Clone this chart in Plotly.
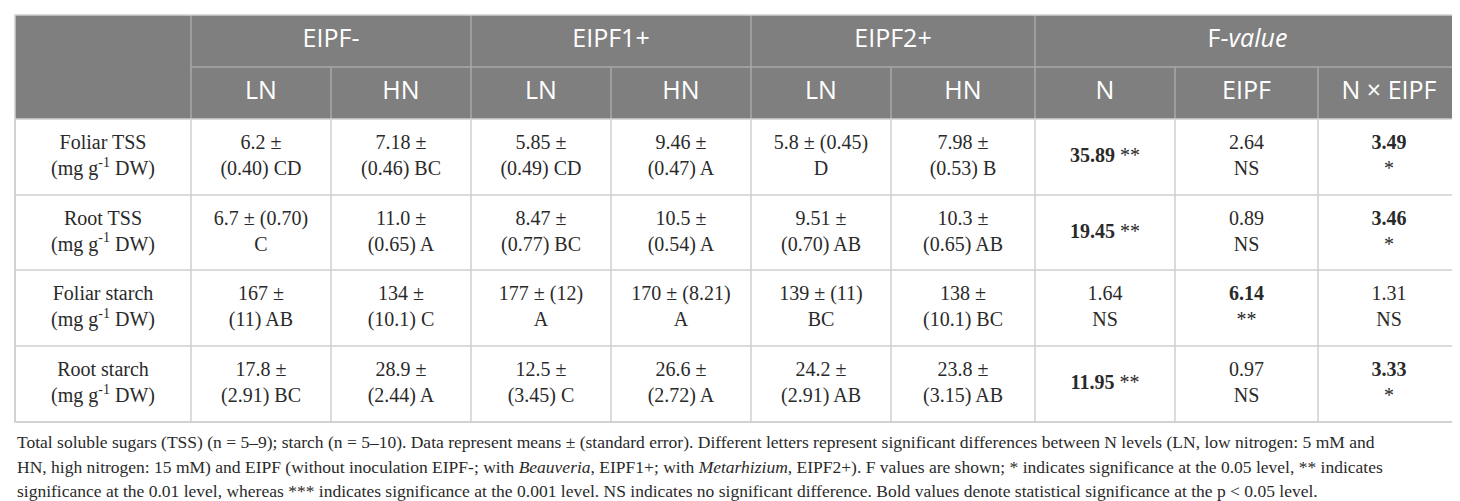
import plotly.graph_objects as go

# table content
row_labels = ["Foliar TSS", "Root TSS", "Foliar starch", "Root starch"]
unit_label = "(mg g<sup>-1</sup> DW)"
groups = ["EIPF-", "EIPF1+", "EIPF2+"]
n_levels = ["LN", "HN"]
f_terms = ["N", "EIPF", "N × EIPF"]

means = [
    ["6.2", "7.18", "5.85", "9.46", "5.8", "7.98"],
    ["6.7", "11.0", "8.47", "10.5", "9.51", "10.3"],
    ["167", "134", "177", "170", "139", "138"],
    ["17.8", "28.9", "12.5", "26.6", "24.2", "23.8"],
]
std_err = [
    ["0.40", "0.46", "0.49", "0.47", "0.45", "0.53"],
    ["0.70", "0.65", "0.77", "0.54", "0.70", "0.65"],
    ["11", "10.1", "12", "8.21", "11", "10.1"],
    ["2.91", "2.44", "3.45", "2.72", "2.91", "3.15"],
]
letters = [
    ["CD", "BC", "CD", "A", "D", "B"],
    ["C", "A", "BC", "A", "AB", "AB"],
    ["AB", "C", "A", "A", "BC", "BC"],
    ["BC", "A", "C", "A", "AB", "AB"],
]
# True where the standard error stays on the first line in the original
se_on_first_line = [
    [False, False, False, False, True, False],
    [True, False, False, False, False, False],
    [False, False, True, True, True, False],
    [False, False, False, False, False, False],
]
f_values = [
    ["35.89", "2.64", "3.49"],
    ["19.45", "0.89", "3.46"],
    ["1.64", "6.14", "1.31"],
    ["11.95", "0.97", "3.33"],
]
f_sig = [
    ["**", "NS", "*"],
    ["**", "NS", "*"],
    ["NS", "**", "NS"],
    ["**", "NS", "*"],
]
footnote = [
    "Total soluble sugars (TSS) (n = 5–9); starch (n = 5–10). Data represent means ± (standard error). Different letters represent significant differences between N levels (LN, low nitrogen: 5 mM and",
    "HN, high nitrogen: 15 mM) and EIPF (without inoculation EIPF-; with <i>Beauveria</i>, EIPF1+; with <i>Metarhizium</i>, EIPF2+). F values are shown; * indicates significance at the 0.05 level, ** indicates",
    "significance at the 0.01 level, whereas *** indicates significance at the 0.001 level. NS indicates no significant difference. Bold values denote statistical significance at the p < 0.05 level.",
]

# layout in pixels
W, H = 1460, 501
col_edges = [7, 183, 323, 463, 603, 743, 883, 1027, 1167, 1310, 1452]
row_edges = [7, 59, 111, 187, 262, 338, 414]
HEAD_BG = "#7f7f7f"
HEAD_LINE = "#a8a8a8"
GRID = "#cfcfcf"
SERIF = "Liberation Serif"
SANS = "Open Sans"

def mid(a, b):
    return (a + b) / 2

fig = go.Figure()

shapes = []
shapes.append(dict(type="rect", x0=col_edges[0], x1=col_edges[-1], y0=row_edges[0], y1=row_edges[2],
                   fillcolor=HEAD_BG, line=dict(width=0), layer="below"))
# header lines
shapes.append(dict(type="line", x0=col_edges[1], x1=col_edges[-1], y0=row_edges[1], y1=row_edges[1],
                   line=dict(color=HEAD_LINE, width=1.5)))
for i, x in enumerate(col_edges[1:-1], start=1):
    top = row_edges[0] if i in (1, 3, 5, 7) else row_edges[1]
    shapes.append(dict(type="line", x0=x, x1=x, y0=top, y1=row_edges[2], line=dict(color=HEAD_LINE, width=1.5)))
# body grid
for y in row_edges[2:]:
    shapes.append(dict(type="line", x0=col_edges[0], x1=col_edges[-1], y0=y, y1=y, line=dict(color=GRID, width=1.5)))
for x in col_edges:
    shapes.append(dict(type="line", x0=x, x1=x, y0=row_edges[2], y1=row_edges[-1], line=dict(color=GRID, width=1.5)))
# outer border
shapes.append(dict(type="rect", x0=col_edges[0], x1=col_edges[-1], y0=row_edges[0], y1=row_edges[-1],
                   line=dict(color=GRID, width=1.5)))

# header text
hx, hy, ht = [], [], []
for g, name in enumerate(groups):
    hx.append(mid(col_edges[1 + 2 * g], col_edges[3 + 2 * g]))
    hy.append(mid(row_edges[0], row_edges[1]))
    ht.append(name)
    for k, lev in enumerate(n_levels):
        hx.append(mid(col_edges[1 + 2 * g + k], col_edges[2 + 2 * g + k]))
        hy.append(mid(row_edges[1], row_edges[2]))
        ht.append(lev)
hx.append(mid(col_edges[7], col_edges[10]))
hy.append(mid(row_edges[0], row_edges[1]))
ht.append("F-<i>value</i>")
for k, term in enumerate(f_terms):
    hx.append(mid(col_edges[7 + k], col_edges[8 + k]))
    hy.append(mid(row_edges[1], row_edges[2]))
    ht.append(term)
fig.add_trace(go.Scatter(x=hx, y=hy, text=ht, mode="text", textposition="middle center",
                         textfont=dict(family=SANS, size=25, color="white"), hoverinfo="skip"))

# body text
bx, by, bt = [], [], []
for r, label in enumerate(row_labels):
    yc = mid(row_edges[2 + r], row_edges[3 + r])
    bx.append(mid(col_edges[0], col_edges[1]))
    by.append(yc)
    bt.append(label + "<br>" + unit_label)
    for c in range(6):
        if se_on_first_line[r][c]:
            txt = f"{means[r][c]} ± ({std_err[r][c]})<br>{letters[r][c]}"
        else:
            txt = f"{means[r][c]} ±<br>({std_err[r][c]}) {letters[r][c]}"
        bx.append(mid(col_edges[1 + c], col_edges[2 + c]))
        by.append(yc)
        bt.append(txt)
    for k in range(3):
        val, sig = f_values[r][k], f_sig[r][k]
        if sig != "NS":
            val = f"<b>{val}</b>"
        sep = " " if (k == 0 and sig != "NS") else "<br>"
        bx.append(mid(col_edges[7 + k], col_edges[8 + k]))
        by.append(yc)
        bt.append(val + sep + sig)
fig.add_trace(go.Scatter(x=bx, y=by, text=bt, mode="text", textposition="middle center",
                         textfont=dict(family=SERIF, size=20, color="#2a2a2a"), hoverinfo="skip"))

annotations = []
for i, line in enumerate(footnote):
    annotations.append(dict(x=col_edges[0], y=434 + 24.5 * i, text=line, showarrow=False, xanchor="left",
                            yanchor="middle", align="left", font=dict(family=SERIF, size=17.5, color="#2a2a2a")))

fig.update_layout(
    width=W, height=H,
    margin=dict(l=0, r=0, t=0, b=0),
    paper_bgcolor="white", plot_bgcolor="white",
    showlegend=False,
    shapes=shapes, annotations=annotations,
    xaxis=dict(range=[0, W], visible=False, fixedrange=True),
    yaxis=dict(range=[H, 0], visible=False, fixedrange=True),
)

fig.write_html("out.html")
